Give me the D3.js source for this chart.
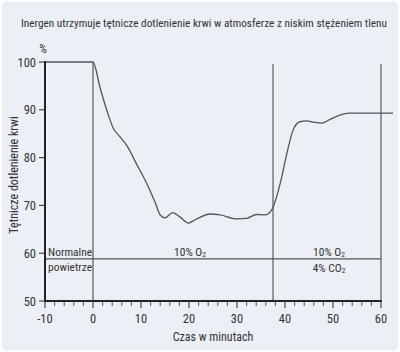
<!DOCTYPE html>
<html>
<head>
<meta charset="utf-8">
<script src="https://cdn.jsdelivr.net/npm/d3@7"></script>
<style>
  body { margin: 0; background: #fff; }
  text { font-family: "Liberation Sans Narrow", "Roboto Condensed", Roboto, sans-serif; fill: #333; }
</style>
</head>
<body>
<script>
// czas (minuty) i dotlenienie (%)
const times = [-10, 0, 1.5, 3, 4.2, 5.6, 7, 9, 11.2, 13, 14, 15, 16.6, 18.1, 19.9, 21.3, 24.4, 26.5, 29.9, 32, 34.1, 35.8, 37.2, 39, 40.4, 41.7, 43.1, 44.5, 46, 47.6, 49.4, 52.1, 53.5, 62.5];
const values = [100, 100, 94.5, 89.5, 86.2, 84.4, 82.6, 78.8, 74.6, 70.5, 68, 67.4, 68.5, 67.6, 66.3, 67, 68.2, 68, 67.2, 67.3, 68.1, 68, 69, 74.6, 80.9, 85.8, 87.5, 87.7, 87.4, 87.2, 88, 89.1, 89.3, 89.3];

const xTicks = [-10, 0, 10, 20, 30, 40, 50, 60];
const yTicks = [50, 60, 70, 80, 90, 100];
const phaseLines = [0, 37.5, 60];
const phaseLevel = 58.8;

const width = 400, height = 352;

const svg = d3.select("body")
    .append("svg")
    .attr("width", width)
    .attr("height", height);

// tlo panelu
svg.append("rect")
    .attr("x", 2).attr("y", 2)
    .attr("width", width - 4).attr("height", height - 4)
    .attr("rx", 3)
    .attr("fill", "#ebf0f7");

const x = d3.scaleLinear().domain([-10, 60]).range([45, 381]);
const y = d3.scaleLinear().domain([50, 100]).range([301, 62]);

// tytul
svg.append("text")
    .attr("x", 204).attr("y", 27)
    .attr("text-anchor", "middle")
    .attr("font-size", 11)
    .attr("textLength", 366)
    .attr("lengthAdjust", "spacingAndGlyphs")
    .text("Inergen utrzymuje tętnicze dotlenienie krwi w atmosferze z niskim stężeniem tlenu");

// linie faz
phaseLines.forEach((t, i) => {
    svg.append("line")
        .attr("x1", x(t)).attr("x2", x(t))
        .attr("y1", i == 0 ? y(100) : y(99.6)).attr("y2", y(50))
        .attr("stroke", "#777")
        .attr("stroke-width", 1.5);
});

svg.append("line")
    .attr("x1", x(-10)).attr("x2", x(60))
    .attr("y1", y(phaseLevel)).attr("y2", y(phaseLevel))
    .attr("stroke", "#555")
    .attr("stroke-width", 1.2);

// krzywa
let line = d3.line()
    .x((d, i) => x(times[i]))
    .y(d => y(d))
    .curve(d3.curveMonotoneX);

svg.append("path")
    .datum(values)
    .attr("d", line)
    .attr("fill", "none")
    .attr("stroke", "#555")
    .attr("stroke-width", 1.3);

// os x
const xAxis = svg.append("g").attr("transform", `translate(0,${y(50)})`);
xAxis.append("line")
    .attr("x1", x(-10) - 1).attr("x2", x(60) + 1)
    .attr("stroke", "#222").attr("stroke-width", 2);
d3.range(-10, 61, 2).forEach(t => {
    let major = t % 10 == 0;
    xAxis.append("line")
        .attr("x1", x(t)).attr("x2", x(t))
        .attr("y1", 0).attr("y2", major ? 7 : 5)
        .attr("stroke", "#444").attr("stroke-width", major ? 1.2 : 0.9);
});
xAxis.selectAll("text.tick")
    .data(xTicks)
    .enter().append("text")
    .attr("x", d => x(d))
    .attr("y", 22)
    .attr("text-anchor", "middle")
    .attr("font-size", 12.5)
    .text(d => d);

svg.append("text")
    .attr("x", 213).attr("y", 341)
    .attr("text-anchor", "middle")
    .attr("font-size", 12)
    .text("Czas w minutach");

// os y
const yAxis = svg.append("g").attr("transform", `translate(${x(-10)},0)`);
yAxis.append("line")
    .attr("y1", y(100) - 1).attr("y2", y(50) + 1)
    .attr("stroke", "#222").attr("stroke-width", 2);
yTicks.forEach(v => {
    yAxis.append("line")
        .attr("x1", -6).attr("x2", 0)
        .attr("y1", y(v)).attr("y2", y(v))
        .attr("stroke", "#444").attr("stroke-width", 1.2);
    yAxis.append("text")
        .attr("x", -9).attr("y", y(v) + 4.5)
        .attr("text-anchor", "end")
        .attr("font-size", 12.5)
        .text(v);
});

svg.append("text")
    .attr("x", 43).attr("y", 53)
    .attr("text-anchor", "middle")
    .attr("font-size", 12)
    .text("%");

svg.append("text")
    .attr("transform", "translate(18,175) rotate(-90)")
    .attr("text-anchor", "middle")
    .attr("font-size", 12)
    .text("Tętnicze dotlenienie krwi");

// opisy faz
svg.append("text").attr("x", 48).attr("y", 256).attr("font-size", 11.5).text("Normalne");
svg.append("text").attr("x", 48).attr("y", 271).attr("font-size", 11.5).text("powietrze");

function gas(xc, yc, label, sub) {
    let t = svg.append("text")
        .attr("x", xc).attr("y", yc)
        .attr("text-anchor", "middle")
        .attr("font-size", 11.5);
    t.append("tspan").text(label);
    t.append("tspan").attr("font-size", 7.5).attr("dy", 1).text(sub);
}
gas(190, 256, "10% O", "2");
gas(329, 256, "10% O", "2");
gas(329, 272, "4% CO", "2");
</script>
</body>
</html>
